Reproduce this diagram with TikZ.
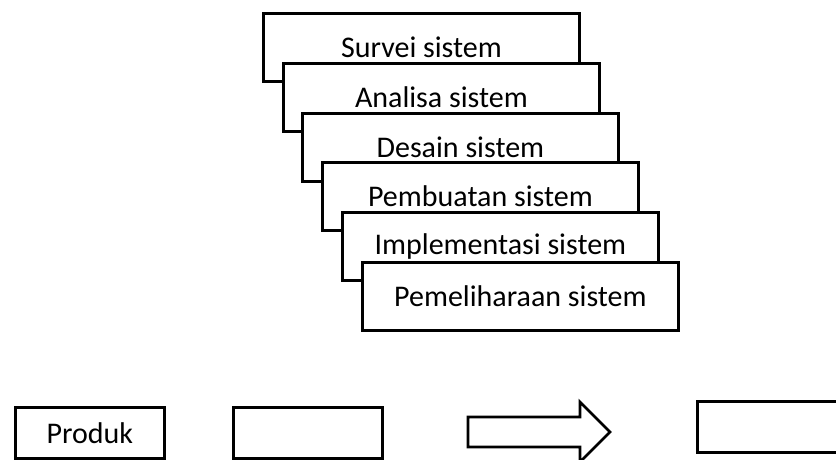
\documentclass[tikz,border=0pt]{standalone}
\usepackage{fontspec}
\setmainfont{Carlito}
\begin{document}
\begin{tikzpicture}[x=1pt,y=-1pt,
  stage/.style={draw=black,fill=white,line width=2.8pt,rectangle,anchor=north west,
    minimum width=316pt,minimum height=68pt,inner sep=0pt,font=\fontsize{30}{32}\selectfont},
  smallbox/.style={draw=black,fill=white,line width=2.8pt,rectangle,anchor=north west,
    minimum width=149pt,minimum height=51pt,inner sep=0pt,font=\fontsize{30}{32}\selectfont}]
\useasboundingbox (0,0) rectangle (836,459);
\clip (0,0) rectangle (836,459);
\node[stage] (s1) at (262,12) {Survei sistem};
\node[stage] (s2) at (282,62) {Analisa sistem};
\node[stage] (s3) at (301,112) {Desain sistem};
\node[stage] (s4) at (321,161) {Pembuatan sistem};
\node[stage] (s5) at (341,211) {Implementasi sistem};
\node[stage] (s6) at (361,261) {Pemeliharaan sistem};
\node[smallbox] (p1) at (14,406) {Produk};
\node[smallbox] (p2) at (232,406) {};
\node[smallbox,minimum width=150pt] (p3) at (696,400) {};
\draw[line width=2.8pt,line join=miter,fill=white]
  (468,417) -- (580,417) -- (580,402) -- (610,432) -- (580,462) -- (580,447) -- (468,447) -- cycle;
\end{tikzpicture}
\end{document}
